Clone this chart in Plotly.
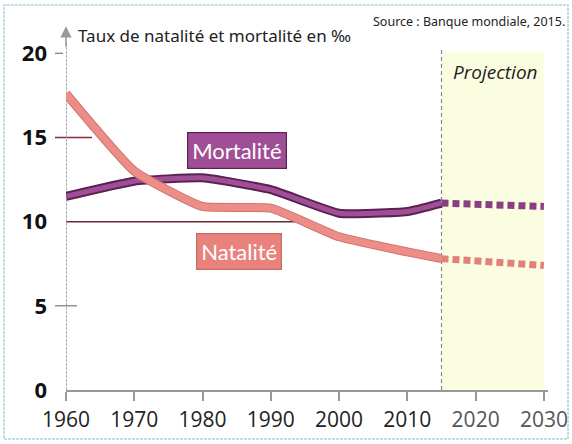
import plotly.graph_objects as go

# ---- data ----
years_hist = [1960, 1970, 1980, 1990, 2000, 2010, 2015]
mortalite_hist = [11.5, 12.4, 12.6, 11.9, 10.5, 10.6, 11.1]
natalite_hist = [17.6, 13.0, 10.9, 10.8, 9.1, 8.2, 7.8]

years_proj = [2015, 2020, 2025, 2030]
mortalite_proj = [11.1, 11.0, 10.95, 10.9]
natalite_proj = [7.8, 7.7, 7.55, 7.4]

y_ticks = [0, 5, 10, 15, 20]
x_ticks = [1960, 1970, 1980, 1990, 2000, 2010, 2020, 2030]
x_tick_labels = ["1960", "1970", "1980", "1990", "2000", "2010",
                 "<span style='color:#555'>2020</span>", "<span style='color:#555'>2030</span>"]

proj_start, proj_end = 2015, 2030

# plot-area pixel geometry helpers (for decorations in margins)
L, R, T, B = 66, 548, 28, 390
def px(xp):
    return (xp - L) / (R - L)
def py(yp):
    return (B - yp) / (B - T)

MORT = "#a04f97"
MORT_DARK = "#5a2252"
NAT = "#ec8d88"
NAT_DARK = "#d27571"

fig = go.Figure()

# outlines then fills
fig.add_trace(go.Scatter(x=years_hist, y=mortalite_hist, mode="lines",
                         line=dict(color=MORT_DARK, width=9, shape="spline", smoothing=0.4),
                         hoverinfo="skip", showlegend=False))
fig.add_trace(go.Scatter(x=years_hist, y=mortalite_hist, mode="lines",
                         line=dict(color=MORT, width=5, shape="spline", smoothing=0.4),
                         name="Mortalité", showlegend=False))
fig.add_trace(go.Scatter(x=years_hist, y=natalite_hist, mode="lines",
                         line=dict(color=NAT_DARK, width=9, shape="spline", smoothing=0.4),
                         hoverinfo="skip", showlegend=False))
fig.add_trace(go.Scatter(x=years_hist, y=natalite_hist, mode="lines",
                         line=dict(color=NAT, width=7, shape="spline", smoothing=0.4),
                         name="Natalité", showlegend=False))

# projections
fig.add_trace(go.Scatter(x=years_proj, y=mortalite_proj, mode="lines",
                         line=dict(color="#8a3f82", width=7, dash="7px,4px"),
                         showlegend=False))
fig.add_trace(go.Scatter(x=years_proj, y=natalite_proj, mode="lines",
                         line=dict(color="#e3807b", width=7, dash="7px,4px"),
                         showlegend=False))

shapes = []
# projection background
shapes.append(dict(type="rect", xref="x", yref="y", x0=proj_start, x1=proj_end,
                   y0=0, y1=20.1, fillcolor="#fbfde1", line=dict(width=0), layer="below"))
# projection divider
shapes.append(dict(type="line", xref="x", yref="y", x0=proj_start, x1=proj_start,
                   y0=0, y1=20.2, line=dict(color="#888", width=1.2, dash="4px,3px"), layer="below"))
# y tick marks / reference lines
shapes.append(dict(type="line", xref="paper", yref="y", x0=px(55), x1=px(63), y0=20, y1=20,
                   line=dict(color="#777", width=1.2)))
shapes.append(dict(type="line", xref="paper", yref="y", x0=px(55), x1=px(92), y0=15, y1=15,
                   line=dict(color="#8b2a3c", width=1.5), layer="below"))
shapes.append(dict(type="line", xref="x", yref="y", x0=1960 - 11 / 6.83, x1=1994, y0=10, y1=10,
                   line=dict(color="#6b2a35", width=1.5), layer="below"))
shapes.append(dict(type="line", xref="paper", yref="y", x0=px(55), x1=px(77), y0=5, y1=5,
                   line=dict(color="#777", width=1.2)))
# y axis line
shapes.append(dict(type="line", xref="x", yref="y", x0=1960, x1=1960, y0=0, y1=20.6,
                   line=dict(color="#999", width=1.6, dash="3px,1px"), layer="below"))
# frame border
shapes.append(dict(type="rect", xref="paper", yref="paper", x0=px(4), x1=px(568),
                   y0=py(439), y1=py(5), line=dict(color="#a6d6d8", width=1.5, dash="3px,1px"),
                   fillcolor="rgba(0,0,0,0)"))

annotations = []
# y axis arrow head
annotations.append(dict(x=1960, y=21.6, ax=1960, ay=20.3, xref="x", yref="y", axref="x", ayref="y",
                        showarrow=True, arrowhead=2, arrowsize=1.4, arrowwidth=1.6,
                        arrowcolor="#999", text=""))
annotations.append(dict(x=px(76), y=py(35), xref="paper", yref="paper", xanchor="left", yanchor="middle",
                        text="Taux de natalité et mortalité en ‰", showarrow=False,
                        font=dict(family="Noto Sans", size=17, color="#222")))
annotations.append(dict(x=px(371), y=py(22), xref="paper", yref="paper", xanchor="left", yanchor="middle",
                        text="Source : Banque mondiale, 2015.", showarrow=False,
                        font=dict(family="Noto Sans", size=12.5, color="#222")))
annotations.append(dict(x=px(451), y=py(72), xref="paper", yref="paper", xanchor="left", yanchor="middle",
                        text="<i>Projection</i>", showarrow=False,
                        font=dict(family="Open Sans", size=19, color="#222")))
annotations.append(dict(x=1985.0, y=14.2, xref="x", yref="y", text="Mortalité", showarrow=False,
                        bgcolor=MORT, bordercolor=MORT_DARK, borderwidth=1.2, borderpad=4,
                        font=dict(family="Lato", size=22, color="white")))
annotations.append(dict(x=1985.4, y=8.25, xref="x", yref="y", text="Natalité", showarrow=False,
                        bgcolor="#e9827d", bordercolor="#c96a66", borderwidth=1.2, borderpad=4,
                        font=dict(family="Lato", size=22, color="white")))

fig.update_layout(
    width=572, height=444,
    margin=dict(l=L, r=572 - R, t=T, b=444 - B),
    paper_bgcolor="white", plot_bgcolor="white",
    shapes=shapes, annotations=annotations,
    showlegend=False,
    xaxis=dict(range=[1960, 2030.6], tickvals=x_ticks, ticktext=x_tick_labels,
               showgrid=False, zeroline=False, showline=True, linecolor="#999", linewidth=2,
               ticks="outside", ticklen=9, tickwidth=1.5, tickcolor="#999",
               tickfont=dict(family="Open Sans", size=21, color="#222"), ticklabelstandoff=1,
               automargin=False, fixedrange=True),
    yaxis=dict(range=[0, 21.5], tickvals=y_ticks, showgrid=False, zeroline=False, showline=False,
               ticks="", ticklabelstandoff=18,
               tickfont=dict(family="Open Sans", size=22, color="#111", weight="bold"),
               automargin=False, fixedrange=True),
)

fig.write_html("out.html", config={"displayModeBar": False},
               post_script="document.body.style.margin='0';document.body.style.overflow='hidden';")
